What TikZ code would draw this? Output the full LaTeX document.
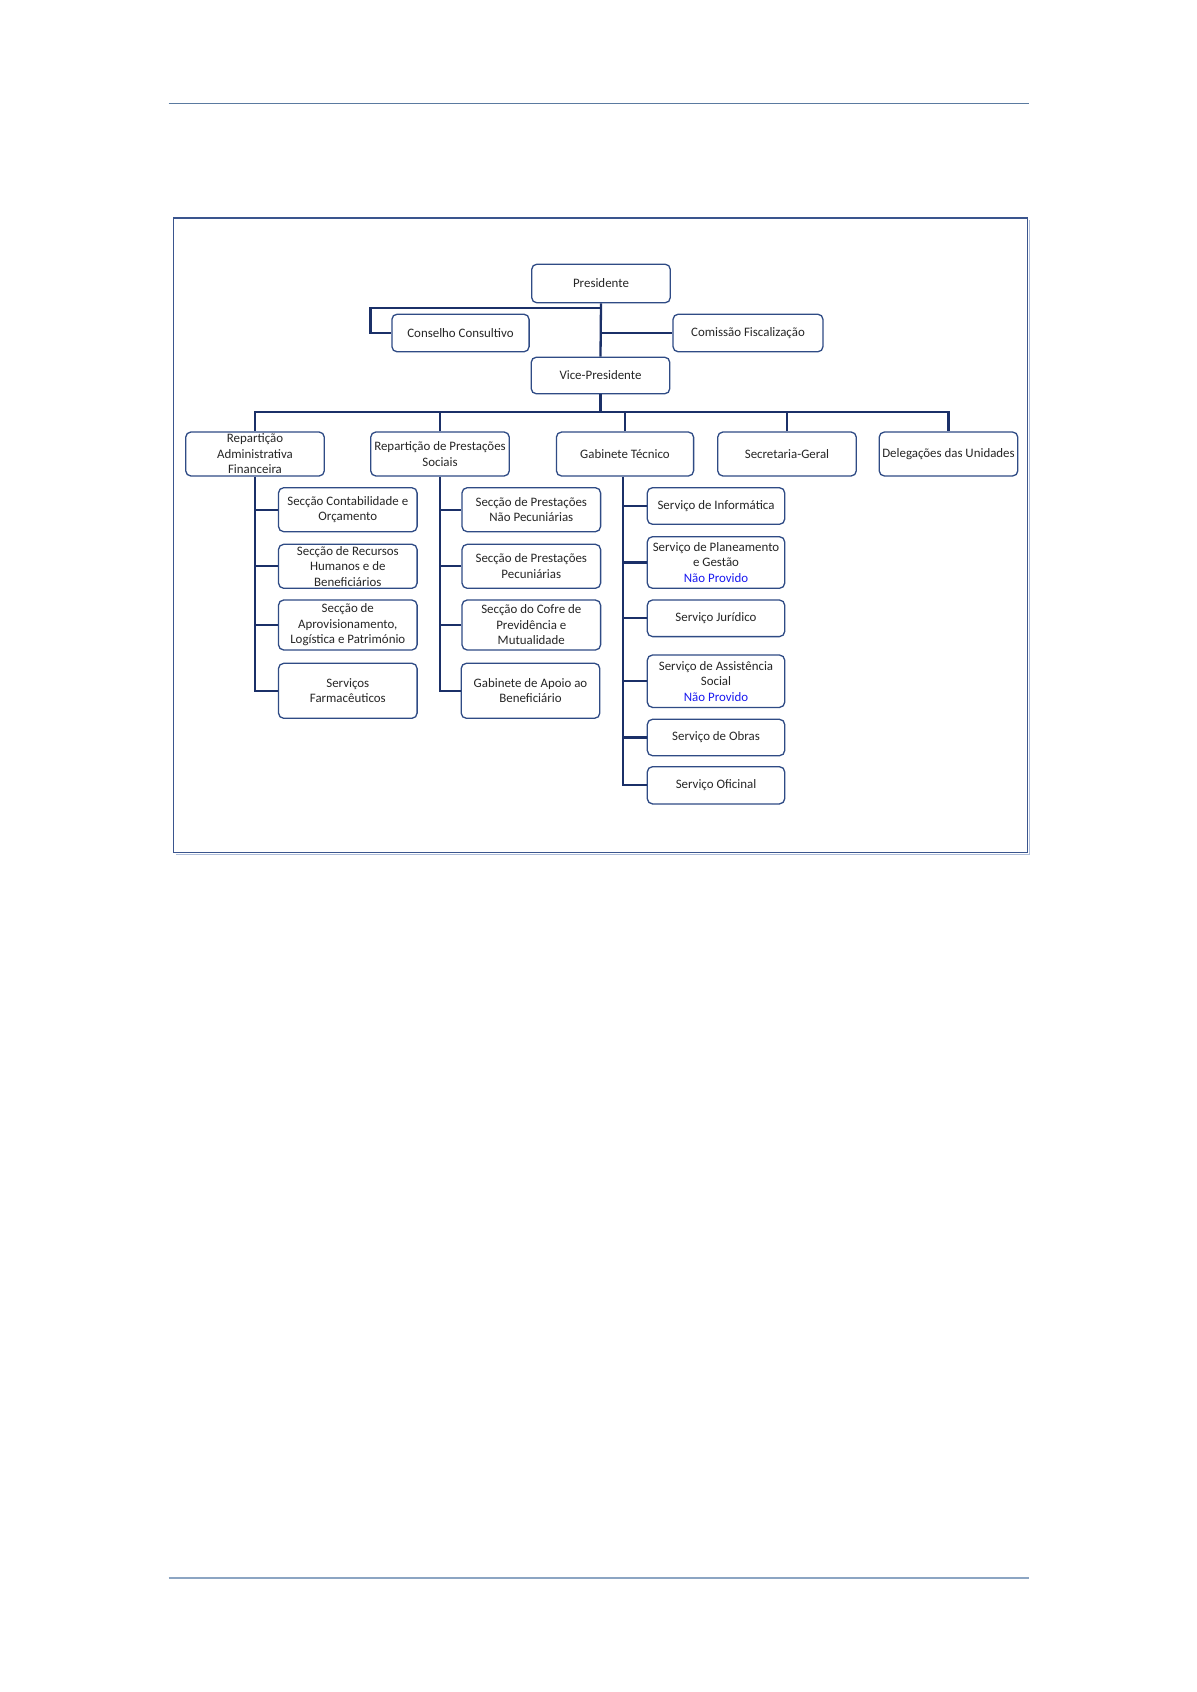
\documentclass[tikz,border=0pt]{standalone}
\usepackage{fontspec}
\setmainfont{Carlito}
\definecolor{boxc}{RGB}{47,75,133}
\definecolor{linec}{RGB}{27,48,104}
\definecolor{textc}{RGB}{38,38,38}
\definecolor{npblue}{RGB}{25,25,240}
\definecolor{framec}{RGB}{58,85,142}
\definecolor{shadowc}{RGB}{175,190,218}
\definecolor{ruletop}{RGB}{90,122,160}
\definecolor{rulebot}{RGB}{140,165,195}
\begin{document}
\begin{tikzpicture}[x=0.5pt,y=-0.5pt,
  orgbox/.style={draw=boxc,line width=0.65pt,rounded corners=2.6pt,fill=white,
    inner sep=0pt,align=center,text=textc,
    font=\fontsize{6.45}{7.75}\selectfont},
  w1/.style={minimum width=69.3pt},
  conn/.style={draw=linec,line width=1.15pt}]
\useasboundingbox[fill=white] (0,0) rectangle (1196,1692);
% page rules
\draw[ruletop,line width=0.8pt] (168.6,103.3) -- (1029,103.3);
\draw[rulebot,line width=1pt] (168.6,1577.7) -- (1029,1577.7);
% frame with light shadow on right and bottom
\draw[shadowc,line width=0.6pt] (1029.3,220) -- (1029.3,854.3) -- (175.7,854.3);
\draw[framec,line width=0.6pt] (173.7,218) rectangle (1027.3,852.3);
% level 0/1
\node[orgbox,w1,minimum height=19.3pt] (pres) at (601,283.5) {Presidente};
\node[orgbox,minimum width=68.6pt,minimum height=18.8pt] (cons) at (460.5,333) {Conselho Consultivo};
\node[orgbox,minimum width=75pt,minimum height=18.8pt] (com) at (748,333) {Comissão Fiscalização};
\node[orgbox,w1,minimum height=18.3pt] (vice) at (600.5,375.5) {Vice-Presidente};
% level 2
\node[orgbox,w1,minimum height=22pt] (ra) at (255,454) {Repartição\\Administrativa\\Financeira};
\node[orgbox,w1,minimum height=22pt] (rps) at (440,454) {Repartição de Prestações\\Sociais};
\node[orgbox,minimum width=68.6pt,minimum height=22pt] (gt) at (625,454) {Gabinete Técnico};
\node[orgbox,w1,minimum height=22pt] (sg) at (787,454) {Secretaria-Geral};
\node[orgbox,w1,minimum height=22pt] (del) at (948.5,454) {Delegações das Unidades};
% left column
\node[orgbox,w1,minimum height=22pt] (sco) at (347.8,509.7) {Secção Contabilidade e\\Orçamento};
\node[orgbox,w1,minimum height=22pt] (srh) at (347.8,566.3) {Secção de Recursos\\Humanos e de\\Beneficiários};
\node[orgbox,w1,minimum height=25pt] (sap) at (347.8,625) {Secção de\\Aprovisionamento,\\Logística e Património};
\node[orgbox,w1,minimum height=27.5pt] (sf) at (347.8,690.8) {Serviços\\Farmacêuticos};
% middle column
\node[orgbox,w1,minimum height=22pt] (spnp) at (531.3,509.7) {Secção de Prestações\\Não Pecuniárias};
\node[orgbox,w1,minimum height=22pt] (spp) at (531.3,566.3) {Secção de Prestações\\Pecuniárias};
\node[orgbox,w1,minimum height=25pt] (scp) at (531.3,625) {Secção do Cofre de\\Previdência e\\Mutualidade};
\node[orgbox,w1,minimum height=27.5pt] (gab) at (530.5,690.8) {Gabinete de Apoio ao\\Beneficiário};
% right column
\node[orgbox,minimum width=68.7pt,minimum height=18.3pt] (si) at (716,506) {Serviço de Informática};
\node[orgbox,minimum width=68.7pt,minimum height=25.8pt] (spg) at (716,562.5) {Serviço de Planeamento\\e Gestão\\{\color{npblue}Não Provido}};
\node[orgbox,minimum width=68.7pt,minimum height=18.3pt] (sj) at (716,618.3) {Serviço Jurídico};
\node[orgbox,minimum width=68.7pt,minimum height=26.2pt] (sas) at (716,681.2) {Serviço de Assistência\\Social\\{\color{npblue}Não Provido}};
\node[orgbox,minimum width=68.7pt,minimum height=18.2pt] (sob) at (716,737.5) {Serviço de Obras};
\node[orgbox,minimum width=68.7pt,minimum height=18.6pt] (sof) at (716,785.3) {Serviço Oficinal};
% helper coordinates
\coordinate (cc) at (370.4,308.3);
\coordinate (bus) at (600.5,412.3);
% connectors top
\draw[conn] (pres.south) -- (vice.north);
\draw[conn] (pres.south |- cc) -- (cc) |- (cons.west);
\draw[conn] (pres.south |- com.west) -- (com.west);
\draw[conn] (vice.south) -- (bus);
\draw[conn] (ra.north) -- (ra.north |- bus) -- (del.north |- bus) -- (del.north);
\draw[conn] (rps.north) -- (rps.north |- bus);
\draw[conn] (gt.north) -- (gt.north |- bus);
\draw[conn] (sg.north) -- (sg.north |- bus);
% left column connectors
\draw[conn] (ra.south) |- (sf.west);
\foreach \n in {sco,srh,sap} \draw[conn] (ra.south |- \n.west) -- (\n.west);
% middle column connectors
\draw[conn] (rps.south) |- (gab.west);
\foreach \n in {spnp,spp,scp} \draw[conn] (rps.south |- \n.west) -- (\n.west);
% right column connectors
\draw[conn] ([xshift=-1pt]gt.south) |- (sof.west);
\foreach \n in {si,spg,sj,sas,sob} \draw[conn] ([xshift=-1pt]gt.south |- \n.west) -- (\n.west);
\end{tikzpicture}
\end{document}
